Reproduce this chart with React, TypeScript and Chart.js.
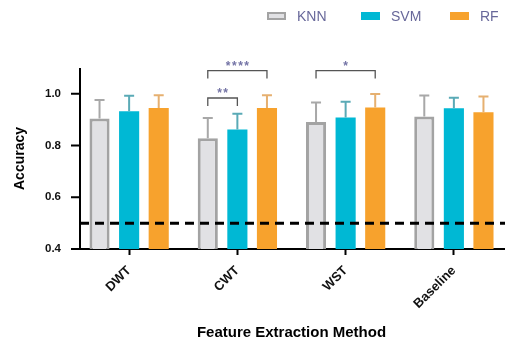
import React, { useEffect, useRef } from 'react';
import { Chart, registerables } from 'chart.js';
Chart.register(...registerables);

const categories = ['DWT', 'CWT', 'WST', 'Baseline'];
const seriesNames = ['KNN', 'SVM', 'RF'];
const knnMean = [0.905, 0.828, 0.891, 0.912];
const knnSD = [0.071, 0.079, 0.076, 0.082];
const svmMean = [0.933, 0.862, 0.909, 0.944];
const svmSD = [0.060, 0.061, 0.060, 0.041];
const rfMean = [0.945, 0.945, 0.947, 0.929];
const rfSD = [0.050, 0.050, 0.052, 0.061];
const yTicks = [0.4, 0.6, 0.8, 1.0];
const chanceLevel = 0.5;
const significance = [
  { cat: 1, a: 0, b: 1, label: '**', level: 0.984 },
  { cat: 1, a: 0, b: 2, label: '****', level: 1.09 },
  { cat: 2, a: 0, b: 2, label: '*', level: 1.09 },
];

const fillColors = ['#e1e1e4', '#00b8d4', '#f7a22d'];
const borderColors = ['#a3a3a3', '#00b8d4', '#f7a22d'];
const errColors = ['#a8a8a8', '#5aaab6', '#e6b070'];
const legendText = '#68689a';
const FONT = "'Liberation Sans', Arial, sans-serif";

const means = [knnMean, svmMean, rfMean];
const sds = [knnSD, svmSD, rfSD];

const overlay = {
  id: 'overlay',
  afterDatasetsDraw(chart: any) {
    const ctx = chart.ctx;
    const y = chart.scales.y;
    chart.data.datasets.forEach((ds: any, di: number) => {
      const meta = chart.getDatasetMeta(di);
      meta.data.forEach((bar: any, i: number) => {
        const top = y.getPixelForValue(ds.data[i] + sds[di][i]);
        ctx.save();
        ctx.strokeStyle = errColors[di];
        ctx.lineWidth = 2;
        ctx.beginPath();
        ctx.moveTo(bar.x, bar.y);
        ctx.lineTo(bar.x, top);
        ctx.moveTo(bar.x - 5, top);
        ctx.lineTo(bar.x + 5, top);
        ctx.stroke();
        ctx.restore();
      });
    });
    const cy = y.getPixelForValue(chanceLevel);
    ctx.save();
    ctx.strokeStyle = '#000';
    ctx.lineWidth = 3;
    ctx.setLineDash([9, 6]);
    ctx.beginPath();
    ctx.moveTo(80, cy);
    ctx.lineTo(chart.width, cy);
    ctx.stroke();
    ctx.restore();
  },
  afterDraw(chart: any) {
    const ctx = chart.ctx;
    const y = chart.scales.y;
    const area = chart.chartArea;
    const axX = 80;
    ctx.save();
    ctx.strokeStyle = '#000';
    ctx.lineWidth = 2;
    ctx.beginPath();
    ctx.moveTo(axX, area.top);
    ctx.lineTo(axX, area.bottom + 1);
    yTicks.forEach((t) => {
      const py = y.getPixelForValue(t);
      ctx.moveTo(71, py);
      ctx.lineTo(axX, py);
    });
    ctx.stroke();
    ctx.restore();
    significance.forEach((s) => {
      const xa = chart.getDatasetMeta(s.a).data[s.cat].x;
      const xb = chart.getDatasetMeta(s.b).data[s.cat].x;
      const py = y.getPixelForValue(s.level);
      ctx.save();
      ctx.strokeStyle = '#555';
      ctx.lineWidth = 1.3;
      ctx.beginPath();
      ctx.moveTo(xa, py + 8);
      ctx.lineTo(xa, py);
      ctx.lineTo(xb, py);
      ctx.lineTo(xb, py + 8);
      ctx.stroke();
      ctx.fillStyle = '#7474a6';
      ctx.font = `bold 12px ${FONT}`;
      (ctx as any).letterSpacing = '1.5px';
      ctx.textAlign = 'center';
      ctx.textBaseline = 'alphabetic';
      ctx.fillText(s.label, (xa + xb) / 2 + 0.75, py - 1);
      ctx.restore();
    });
    const legendX = [267, 361, 450];
    ctx.save();
    seriesNames.forEach((n, i) => {
      const bx = legendX[i];
      ctx.fillStyle = fillColors[i];
      ctx.fillRect(bx, 12, 19, 8);
      if (i === 0) {
        ctx.strokeStyle = borderColors[0];
        ctx.lineWidth = 2;
        ctx.strokeRect(bx + 1, 13, 17, 6);
      }
      ctx.fillStyle = legendText;
      ctx.font = `14px ${FONT}`;
      ctx.textBaseline = 'middle';
      ctx.textAlign = 'left';
      ctx.fillText(n, bx + 30, 17);
    });
    ctx.restore();
  },
};

export default function App() {
  const ref = useRef<HTMLCanvasElement>(null);
  useEffect(() => {
    if (!ref.current) return;
    const chart = new Chart(ref.current, {
      type: 'bar',
      data: {
        labels: categories,
        datasets: seriesNames.map((n, i) => ({
          label: n,
          data: means[i],
          backgroundColor: fillColors[i],
          borderColor: borderColors[i],
          borderWidth: i === 0 ? 3 : 0,
          borderSkipped: 'start',
          categoryPercentage: 0.82,
          barPercentage: 0.68,
        })),
      },
      options: {
        responsive: false,
        animation: false,
        devicePixelRatio: 1,
        layout: { padding: { top: 68, right: 2, left: 0, bottom: 0 } },
        plugins: { legend: { display: false }, tooltip: { enabled: false } },
        scales: {
          x: {
            afterFit: (s: any) => { s.height = 94; },
            border: { color: '#000', width: 2 },
            grid: { offset: false, drawOnChartArea: false, tickLength: 6, tickColor: '#000', tickWidth: 2 },
            ticks: { color: '#111', font: { family: FONT, weight: 'bold', size: 13 }, maxRotation: 45, minRotation: 45, padding: 8 },
            title: { display: true, text: 'Feature Extraction Method', color: '#000', font: { family: FONT, weight: 'bold', size: 15 }, padding: { top: 0, bottom: 1 } },
          },
          y: {
            min: 0.4,
            max: 1.1,
            afterFit: (s: any) => { s.width = 75; },
            afterBuildTicks: (s: any) => { s.ticks = yTicks.map((v) => ({ value: v })); },
            border: { display: false },
            grid: { display: false },
            ticks: { color: '#111', font: { family: FONT, weight: 'bold', size: 11.5 }, padding: 6, callback: (v: any) => Number(v).toFixed(1) },
            title: { display: true, text: 'Accuracy', color: '#000', font: { family: FONT, weight: 'bold', size: 14 }, padding: { top: 12, bottom: 0 } },
          },
        },
      },
      plugins: [overlay],
    } as any);
    return () => chart.destroy();
  }, []);
  return (
    <div style={{ position: 'absolute', left: 0, top: 0, width: 505, height: 343, overflow: 'hidden', background: '#fff' }}>
      <canvas ref={ref} width={510} height={343} style={{ width: 510, height: 343, display: 'block' }} />
    </div>
  );
}
